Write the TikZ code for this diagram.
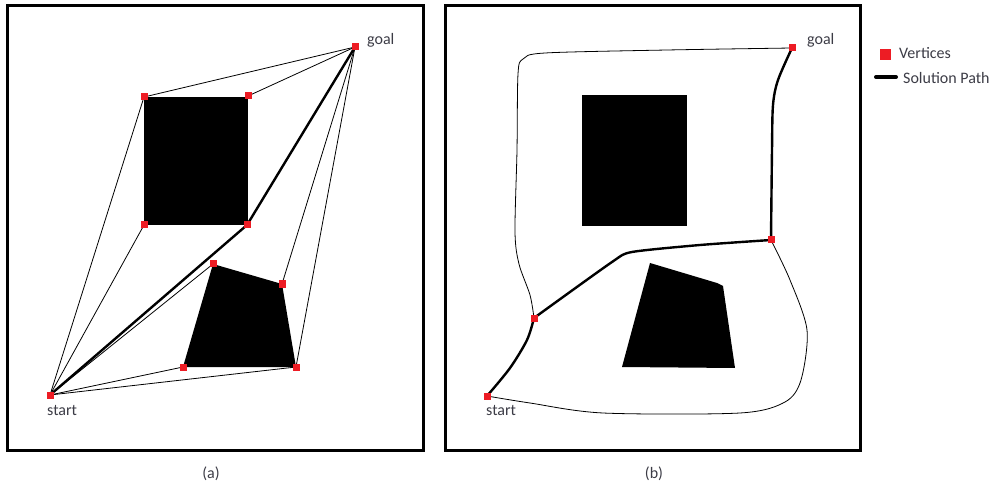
\documentclass[tikz,border=0pt]{standalone}
\usepackage{fontspec}
\setmainfont{Carlito}
\definecolor{vred}{RGB}{237,28,36}
\definecolor{lbltext}{RGB}{60,60,70}
\begin{document}
\begin{tikzpicture}[x=1pt,y=-1pt,
  vtx/.style={rectangle,fill=vred,draw=none,minimum size=7pt,inner sep=0pt},
  edge/.style={line width=0.8pt,black},
  solpath/.style={line width=2.4pt,black,line cap=round,line join=round},
  frame/.style={line width=3pt,black},
  obst/.style={fill=black,draw=none},
  lbl/.style={font=\fontsize{16}{19}\selectfont,text=lbltext,inner sep=0pt}]
\useasboundingbox (0,0) rectangle (999,489);

% ---------- panel (a): visibility graph ----------
\draw[frame] (7,6) rectangle (423,450);
\fill[obst] (144,97) rectangle (248,225);
\fill[obst] (213,264) -- (282,284) -- (296,367) -- (183,367) -- cycle;

\node[vtx] (gA) at (355,47) {};
\node[vtx] (sA) at (50,395) {};
\node[vtx] (r1) at (144,97) {};
\node[vtx] (r2) at (248,96) {};
\node[vtx] (r3) at (247,225) {};
\node[vtx] (r4) at (144,225) {};
\node[vtx] (q1) at (213,264) {};
\node[vtx] (q2) at (282,284) {};
\node[vtx] (q3) at (296,367) {};
\node[vtx] (q4) at (183,367) {};

\draw[edge] (gA.center) -- (r1.center);
\draw[edge] (gA.center) -- (r2.center);
\draw[edge] (gA.center) -- (q2.center);
\draw[edge] (gA.center) -- (q3.center);
\draw[edge] (sA.center) -- (r1.center);
\draw[edge] (sA.center) -- (r4.center);
\draw[edge] (sA.center) -- (q1.center);
\draw[edge] (sA.center) -- (q4.center);
\draw[edge] (sA.center) -- (q3.center);
\draw[solpath] (sA.center) -- (r3.center) -- (gA.center);

\foreach \v in {gA,sA,r1,r2,r3,r4,q1,q2,q3,q4} \node[vtx] at (\v) {};

\node[lbl,anchor=base west] (goalA) at (367,45) {goal};
\node[lbl,anchor=base west] (startA) at (47,415) {start};
\node[lbl,anchor=base] (capA) at (211,478) {(a)};

% ---------- panel (b): roadmap ----------
\draw[frame] (445,6) rectangle (860,450);
\fill[obst] (582,95) rectangle (687,226);
\fill[obst] (650,263) -- (717,283) -- (723,286) -- (735,368) -- (622,367) -- cycle;

\node[vtx] (gB) at (792,48) {};
\node[vtx] (sB) at (487,396) {};
\node[vtx] (vL) at (534,318) {};
\node[vtx] (vR) at (771,240) {};

% outer roadmap edges
\draw[edge] plot[smooth,tension=0.5] coordinates
  {(gB) (667,50) (545,53) (523,59) (518,74) (517,150) (515,232) (519,264) (530,295) (vL)};
\draw[edge] plot[smooth,tension=0.5] coordinates
  {(sB) (530,403) (603,413) (740,413) (785,402) (801,380) (807,330) (790,280) (vR)};

% solution path
\draw[solpath] plot[smooth,tension=0.5] coordinates
  {(sB) (510,368) (527,340) (vL)};
\draw[solpath] plot[smooth,tension=0.4] coordinates
  {(vL) (612,262) (632,252) (700,245) (vR)};
\draw[solpath] plot[smooth,tension=0.5] coordinates
  {(vR) (772,150) (773,105) (778,80) (gB)};

\foreach \v in {gB,sB,vL,vR} \node[vtx] at (\v) {};

\node[lbl,anchor=base west] (goalB) at (807,45) {goal};
\node[lbl,anchor=base west] (startB) at (486,415) {start};
\node[lbl,anchor=base] (capB) at (654,478) {(b)};

% ---------- legend ----------
\node[vtx,minimum size=11pt] (legV) at (885,55) {};
\node[lbl,anchor=base west] (legVt) at (899,59) {Vertices};
\coordinate (legA) at (876,77);
\coordinate (legB) at (896,77);
\draw[solpath,line width=4pt] (legA) -- (legB);
\begin{scope}
  \clip (898,60) rectangle (989,95);
  \node[lbl,anchor=base west] (legPt) at (903,84) {Solution Path};
\end{scope}
\end{tikzpicture}
\end{document}
